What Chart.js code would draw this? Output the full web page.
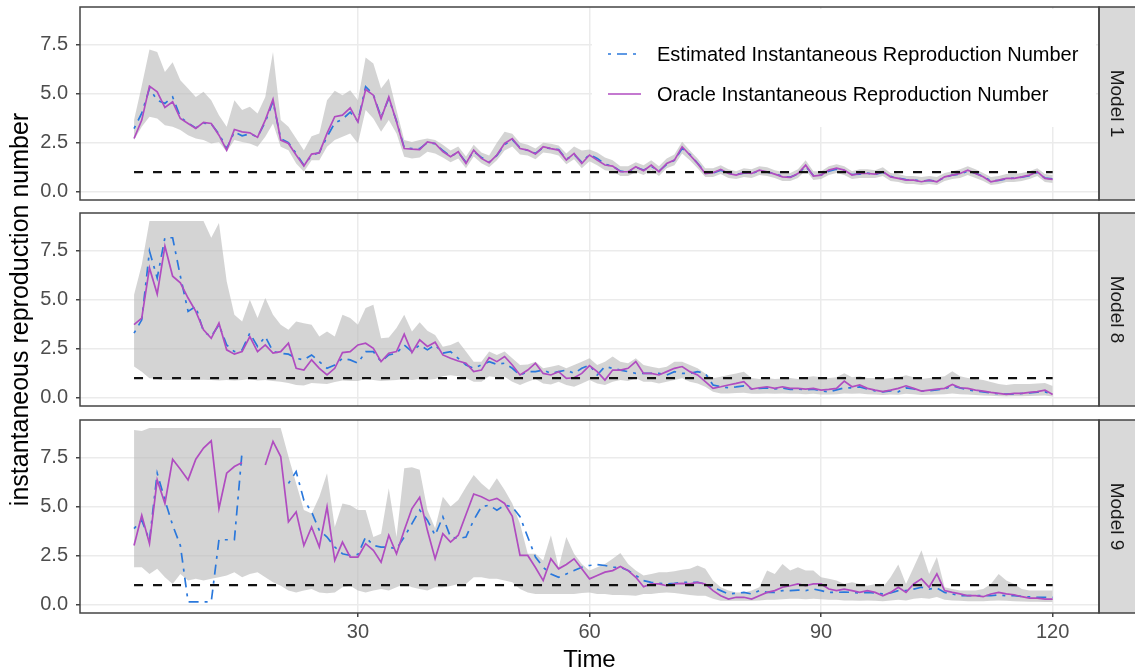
<!DOCTYPE html>
<html>
<head>
<meta charset="utf-8">
<title>Instantaneous reproduction number</title>
<script src="https://cdn.jsdelivr.net/npm/chart.js@4.4.1/dist/chart.umd.min.js"></script>
<style>
  html, body { margin: 0; padding: 0; background: #fff; overflow: hidden; }
  #wrap { position: relative; width: 1135px; height: 672px; }
  #wrap canvas { position: absolute; left: 0; top: 0; }
</style>
</head>
<body>
<div id="wrap">
  <canvas id="panel1" width="1135" height="672"></canvas>
  <canvas id="panel8" width="1135" height="672"></canvas>
  <canvas id="panel9" width="1135" height="672"></canvas>
</div>
<script>
// ---- data (one value per day) ----
const days = [];
for (let t = 1; t <= 120; t++) days.push(t);

const timeTicks = [30, 60, 90, 120];
const rTicks = [0, 2.5, 5, 7.5];
const refLevel = 1; // epidemic threshold R = 1
const facetLabels = ['Model 1', 'Model 8', 'Model 9'];
const seriesNames = ['Estimated Instantaneous Reproduction Number', 'Oracle Instantaneous Reproduction Number'];

// Model 1
const m1Oracle = [2.71, 3.65, 5.38, 5.09, 4.29, 4.58, 3.73, 3.48, 3.22, 3.53,
  3.48, 2.88, 2.12, 3.17, 3.05, 3.00, 2.77, 3.65, 4.70, 2.63,
  2.46, 1.87, 1.31, 1.92, 1.98, 2.97, 3.82, 3.90, 4.27, 3.56,
  5.21, 4.92, 3.73, 4.83, 3.56, 2.20, 2.17, 2.15, 2.54, 2.46,
  2.05, 1.78, 2.04, 1.44, 2.12, 1.70, 1.48, 1.87, 2.46, 2.71,
  2.20, 2.12, 1.92, 2.29, 2.20, 2.12, 1.61, 1.95, 1.44, 1.87,
  1.61, 1.36, 1.31, 1.02, 1.02, 1.27, 1.07, 1.36, 1.02, 1.44,
  1.61, 2.29, 1.87, 1.44, 0.93, 0.97, 1.14, 0.93, 0.85, 0.97,
  0.93, 1.10, 1.02, 0.90, 0.76, 0.73, 0.93, 1.36, 0.80, 0.85,
  1.10, 1.20, 1.10, 0.85, 0.93, 0.93, 0.90, 1.02, 0.76, 0.68,
  0.59, 0.59, 0.51, 0.59, 0.51, 0.76, 0.85, 0.93, 1.10, 0.93,
  0.76, 0.51, 0.59, 0.68, 0.68, 0.76, 0.85, 1.02, 0.68, 0.63];
const m1Est = [3.22, 4.00, 5.26, 4.66, 4.50, 4.83, 3.80, 3.50, 3.25, 3.50,
  3.45, 2.95, 2.20, 3.05, 2.85, 2.95, 2.80, 3.55, 4.60, 2.70,
  2.50, 1.95, 1.35, 1.85, 2.00, 2.80, 3.50, 3.70, 4.05, 3.60,
  5.35, 4.95, 3.80, 4.75, 3.60, 2.25, 2.20, 2.20, 2.50, 2.45,
  2.10, 1.80, 2.00, 1.50, 2.05, 1.75, 1.50, 1.85, 2.40, 2.65,
  2.25, 2.10, 1.95, 2.25, 2.20, 2.15, 1.65, 1.90, 1.50, 1.90,
  1.70, 1.40, 1.30, 1.05, 1.00, 1.25, 1.10, 1.30, 1.05, 1.40,
  1.60, 2.20, 1.90, 1.45, 0.98, 0.95, 1.10, 0.95, 0.88, 0.95,
  0.95, 1.05, 1.00, 0.92, 0.78, 0.75, 0.90, 1.30, 0.82, 0.85,
  1.05, 1.15, 1.08, 0.88, 0.90, 0.95, 0.88, 1.00, 0.78, 0.70,
  0.62, 0.60, 0.55, 0.58, 0.54, 0.72, 0.85, 0.90, 1.05, 0.95,
  0.78, 0.55, 0.58, 0.66, 0.70, 0.74, 0.82, 0.98, 0.70, 0.65];
const m1Hi = [3.65, 5.40, 7.24, 7.12, 6.10, 6.60, 5.68, 5.26, 4.83, 5.09,
  4.66, 3.90, 3.31, 4.66, 4.16, 4.33, 3.99, 4.83, 7.12, 3.65,
  3.31, 2.71, 2.12, 2.83, 2.97, 4.66, 5.14, 4.92, 5.17, 4.66,
  6.84, 6.53, 5.26, 5.77, 4.16, 2.63, 2.54, 2.63, 2.71, 2.63,
  2.40, 2.10, 2.30, 1.80, 2.40, 2.00, 1.85, 2.50, 3.05, 2.95,
  2.50, 2.40, 2.20, 2.50, 2.45, 2.35, 1.95, 2.30, 2.10, 2.15,
  2.00, 1.75, 1.60, 1.30, 1.30, 1.50, 1.35, 1.60, 1.30, 1.70,
  1.90, 2.55, 2.10, 1.70, 1.20, 1.20, 1.35, 1.15, 1.05, 1.20,
  1.15, 1.30, 1.25, 1.10, 1.00, 0.95, 1.15, 1.60, 1.05, 1.05,
  1.30, 1.40, 1.30, 1.05, 1.15, 1.15, 1.10, 1.25, 0.95, 0.90,
  0.80, 0.80, 0.75, 0.80, 0.75, 0.95, 1.05, 1.15, 1.30, 1.15,
  0.95, 0.75, 0.80, 0.90, 0.90, 0.95, 1.05, 1.20, 0.90, 0.85];
const m1Lo = [2.63, 3.31, 3.82, 3.73, 3.39, 3.31, 3.14, 2.88, 2.71, 2.63,
  2.46, 2.54, 2.04, 2.63, 2.54, 2.46, 2.29, 2.80, 3.48, 2.29,
  2.12, 1.44, 1.02, 1.61, 1.61, 2.29, 2.63, 2.80, 2.97, 2.46,
  4.16, 3.73, 3.05, 3.65, 2.97, 1.78, 1.70, 1.75, 2.04, 1.95,
  1.75, 1.50, 1.70, 1.20, 1.80, 1.45, 1.25, 1.60, 2.10, 2.30,
  1.90, 1.85, 1.65, 2.00, 1.95, 1.85, 1.40, 1.65, 1.20, 1.55,
  1.35, 1.10, 1.05, 0.80, 0.80, 1.00, 0.85, 1.10, 0.80, 1.20,
  1.35, 1.95, 1.60, 1.20, 0.75, 0.75, 0.90, 0.70, 0.65, 0.75,
  0.70, 0.85, 0.80, 0.70, 0.55, 0.55, 0.70, 1.10, 0.60, 0.65,
  0.85, 0.95, 0.85, 0.65, 0.70, 0.70, 0.70, 0.80, 0.55, 0.50,
  0.40, 0.40, 0.35, 0.40, 0.35, 0.55, 0.65, 0.70, 0.85, 0.70,
  0.55, 0.35, 0.40, 0.50, 0.50, 0.55, 0.65, 0.80, 0.50, 0.45];

// Model 8
const m8Oracle = [3.72, 4.06, 6.61, 5.28, 7.72, 6.19, 5.85, 5.08, 4.40, 3.46,
  3.03, 3.80, 2.44, 2.22, 2.35, 3.12, 2.35, 2.69, 2.27, 2.35,
  2.78, 1.50, 1.41, 1.93, 1.50, 1.16, 1.50, 2.30, 2.35, 2.69,
  2.78, 2.52, 1.84, 2.27, 2.35, 3.24, 2.30, 2.95, 2.61, 2.83,
  2.18, 2.01, 1.87, 1.76, 1.33, 1.41, 2.05, 1.84, 2.10, 1.67,
  1.16, 1.41, 1.76, 1.24, 1.16, 1.33, 0.99, 1.02, 1.24, 1.64,
  1.33, 0.90, 1.41, 1.41, 1.50, 1.84, 1.24, 1.24, 1.16, 1.33,
  1.50, 1.59, 1.33, 1.16, 0.82, 0.48, 0.56, 0.65, 0.73, 0.82,
  0.44, 0.51, 0.56, 0.48, 0.56, 0.48, 0.48, 0.44, 0.48, 0.39,
  0.43, 0.48, 0.85, 0.56, 0.65, 0.48, 0.39, 0.31, 0.39, 0.48,
  0.61, 0.48, 0.34, 0.39, 0.44, 0.48, 0.68, 0.51, 0.48, 0.39,
  0.34, 0.27, 0.22, 0.17, 0.22, 0.22, 0.27, 0.31, 0.39, 0.17];
const m8Est = [3.29, 3.97, 7.47, 6.10, 8.15, 8.15, 6.19, 4.40, 4.65, 3.37,
  3.12, 3.72, 2.69, 2.35, 2.44, 3.29, 2.61, 3.12, 2.35, 2.27,
  2.22, 2.01, 1.93, 2.18, 1.84, 1.50, 1.67, 2.01, 1.93, 1.76,
  2.35, 2.35, 1.84, 2.18, 2.27, 2.69, 2.35, 2.69, 2.44, 2.69,
  2.27, 2.35, 2.01, 1.67, 1.50, 1.67, 1.84, 1.70, 1.76, 1.50,
  1.16, 1.33, 1.33, 1.41, 1.24, 1.33, 1.41, 1.24, 1.50, 1.67,
  1.16, 1.59, 1.50, 1.41, 1.33, 1.24, 1.24, 1.24, 1.24, 1.16,
  1.33, 1.24, 1.24, 1.33, 1.24, 0.65, 0.56, 0.51, 0.55, 0.60,
  0.45, 0.48, 0.50, 0.45, 0.50, 0.42, 0.45, 0.40, 0.44, 0.35,
  0.30, 0.40, 0.50, 0.50, 0.55, 0.45, 0.35, 0.30, 0.35, 0.30,
  0.50, 0.45, 0.35, 0.35, 0.40, 0.45, 0.60, 0.50, 0.40, 0.35,
  0.30, 0.25, 0.20, 0.18, 0.20, 0.22, 0.25, 0.28, 0.30, 0.20];
const m8Hi = [5.25, 6.78, 9.00, 9.00, 9.00, 9.00, 9.00, 9.00, 9.00, 9.00,
  8.15, 8.90, 5.93, 4.23, 3.89, 4.99, 4.06, 5.08, 4.23, 3.72,
  3.46, 3.89, 3.80, 3.72, 3.12, 3.37, 3.12, 4.23, 4.06, 3.72,
  4.57, 4.74, 3.03, 3.07, 3.55, 4.23, 3.37, 3.85, 3.41, 3.20,
  2.60, 2.69, 2.86, 2.35, 1.84, 1.84, 2.35, 2.18, 2.35, 2.01,
  1.67, 1.70, 1.84, 1.50, 1.58, 1.67, 1.50, 1.67, 1.84, 2.01,
  1.67, 1.84, 2.10, 1.84, 1.76, 2.01, 1.67, 1.58, 1.50, 1.58,
  1.84, 1.84, 1.67, 1.50, 1.24, 0.99, 1.07, 1.16, 1.24, 1.33,
  1.00, 0.95, 1.00, 0.95, 0.98, 1.00, 0.95, 1.05, 1.10, 1.05,
  1.00, 1.05, 1.25, 1.05, 1.10, 1.00, 1.00, 0.95, 1.00, 1.05,
  1.15, 1.05, 0.95, 1.00, 1.05, 1.10, 1.35, 1.10, 1.00, 0.95,
  0.90, 0.80, 0.70, 0.65, 0.70, 0.70, 0.70, 0.72, 0.75, 0.60];
const m8Lo = [1.59, 1.33, 0.99, 0.95, 0.90, 0.90, 0.92, 0.90, 0.90, 0.92,
  0.90, 0.88, 0.90, 0.88, 0.90, 0.95, 0.88, 0.90, 0.85, 0.82,
  0.75, 0.65, 0.62, 0.75, 0.72, 0.70, 0.80, 0.88, 0.85, 0.85,
  0.95, 0.90, 0.85, 0.88, 0.90, 0.95, 0.90, 0.95, 0.92, 0.95,
  1.10, 1.15, 1.10, 1.00, 0.82, 0.82, 1.10, 1.05, 1.07, 0.82,
  0.65, 0.82, 0.95, 0.73, 0.68, 0.82, 0.65, 0.56, 0.73, 0.90,
  0.73, 0.65, 0.82, 0.90, 0.85, 0.99, 0.82, 0.82, 0.73, 0.82,
  0.90, 0.99, 0.82, 0.73, 0.56, 0.31, 0.22, 0.22, 0.24, 0.26,
  0.20, 0.20, 0.22, 0.20, 0.22, 0.20, 0.20, 0.18, 0.20, 0.16,
  0.16, 0.18, 0.22, 0.20, 0.22, 0.18, 0.16, 0.14, 0.16, 0.15,
  0.20, 0.18, 0.14, 0.15, 0.16, 0.18, 0.22, 0.18, 0.16, 0.14,
  0.12, 0.10, 0.08, 0.06, 0.08, 0.08, 0.09, 0.10, 0.12, 0.06];

// Model 9 (null = no value plotted)
const m9Oracle = [3.02, 4.56, 3.11, 6.36, 5.16, 7.41, 6.90, 6.36, 7.41, 7.98,
  8.35, 4.90, 6.70, 7.04, 7.24, null, null, 7.12, 8.32, 7.55,
  4.22, 4.73, 3.02, 3.96, 2.94, 4.99, 2.26, 3.19, 2.43, 2.43,
  3.11, 2.77, 2.17, 3.54, 2.60, 3.79, 4.90, 5.47, 3.79, 2.34,
  3.62, 3.19, 3.54, 4.60, 5.64, 5.50, 5.30, 5.42, 5.16, 4.50,
  2.51, 2.51, 1.90, 1.23, 2.34, 1.83, 2.05, 2.34, 1.83, 1.32,
  1.49, 1.66, 1.74, 1.95, 1.74, 1.40, 0.92, 1.06, 1.06, 0.97,
  1.06, 1.09, 1.06, 1.14, 1.06, 0.72, 0.46, 0.29, 0.38, 0.38,
  0.29, 0.46, 0.63, 0.72, 0.89, 0.97, 1.06, 0.97, 1.06, 1.06,
  0.80, 0.72, 0.80, 0.72, 0.63, 0.72, 0.63, 0.46, 0.63, 0.89,
  0.63, 1.06, 1.32, 0.89, 1.57, 0.72, 0.63, 0.55, 0.46, 0.46,
  0.41, 0.55, 0.63, 0.55, 0.51, 0.41, 0.34, 0.34, 0.29, 0.29];
const m9Est = [3.88, 4.31, 3.28, 6.70, 5.33, 4.05, 3.02, 0.15, 0.15, 0.15,
  0.15, 3.31, 3.31, 3.31, 7.81, null, null, null, null, null,
  6.18, 6.78, 5.33, 4.73, 3.79, 3.45, 2.94, 2.60, 2.51, 2.56,
  3.45, 3.02, 2.94, 2.94, 2.85, 3.45, 4.13, 4.82, 4.31, 3.54,
  4.48, 3.45, 3.37, 3.45, 4.31, 4.99, 5.07, 4.82, 5.07, 4.99,
  4.48, 3.45, 2.43, 1.91, 1.57, 1.40, 1.57, 1.74, 1.91, 2.00,
  2.05, 2.00, 1.91, 1.91, 1.74, 1.49, 1.23, 1.14, 1.09, 1.06,
  1.09, 1.14, 1.14, 1.14, 1.06, 0.89, 0.72, 0.55, 0.58, 0.63,
  0.55, 0.72, 0.63, 0.63, 0.72, 0.72, 0.75, 0.72, 0.80, 0.72,
  0.63, 0.63, 0.65, 0.63, 0.60, 0.63, 0.60, 0.55, 0.60, 0.72,
  0.72, 0.80, 0.89, 0.80, 0.85, 0.63, 0.55, 0.46, 0.46, 0.46,
  0.46, 0.46, 0.50, 0.46, 0.46, 0.42, 0.40, 0.38, 0.38, 0.38];
const m9Hi = [8.90, 8.85, 9.00, 9.00, 9.00, 9.00, 9.00, 9.00, 9.00, 9.00,
  9.00, 9.00, 9.00, 9.00, 9.00, 9.00, 9.00, 9.00, 9.00, 9.00,
  7.55, 6.18, 4.82, 4.65, 5.50, 6.70, 3.96, 5.16, 5.07, 4.82,
  4.82, 3.45, 3.62, 5.93, 3.45, 6.95, 7.00, 6.87, 4.82, 3.90,
  5.50, 5.00, 5.33, 6.00, 6.61, 6.18, 5.84, 6.44, 5.84, 5.16,
  4.13, 2.60, 2.60, 2.26, 3.54, 1.91, 3.45, 2.60, 2.08, 1.74,
  1.91, 2.08, 2.34, 2.63, 2.08, 1.74, 1.49, 1.57, 1.66, 1.66,
  1.71, 1.78, 1.83, 2.00, 1.83, 1.23, 0.89, 0.72, 0.63, 0.63,
  0.72, 0.89, 1.74, 1.57, 2.08, 1.74, 1.91, 1.74, 1.74, 1.40,
  1.32, 1.23, 1.06, 1.14, 1.06, 0.97, 1.06, 0.89, 1.40, 2.05,
  1.06, 1.91, 2.77, 1.57, 2.43, 0.89, 0.80, 0.72, 0.72, 0.72,
  0.80, 1.06, 1.57, 1.23, 1.06, 0.80, 0.72, 0.72, 0.72, 0.72];
const m9Lo = [1.91, 1.91, 1.57, 1.83, 1.40, 1.06, 1.57, 1.23, 1.32, 1.23,
  1.32, 1.40, 1.49, 1.66, 1.40, 1.57, 1.66, 1.40, 1.15, 0.97,
  0.72, 0.63, 0.72, 0.80, 0.63, 0.58, 0.63, 0.89, 0.97, 0.72,
  0.63, 0.72, 0.80, 0.72, 0.89, 1.06, 0.89, 0.80, 0.72, 0.89,
  0.89, 0.95, 1.06, 1.06, 1.40, 1.40, 1.32, 1.32, 1.23, 1.15,
  0.80, 0.63, 0.55, 0.55, 0.55, 0.55, 0.55, 0.55, 0.60, 0.63,
  0.55, 0.55, 0.50, 0.50, 0.48, 0.46, 0.55, 0.55, 0.60, 0.63,
  0.60, 0.55, 0.50, 0.46, 0.46, 0.30, 0.20, 0.20, 0.20, 0.20,
  0.20, 0.22, 0.25, 0.25, 0.28, 0.30, 0.30, 0.28, 0.30, 0.28,
  0.25, 0.25, 0.22, 0.22, 0.20, 0.22, 0.20, 0.18, 0.22, 0.25,
  0.22, 0.30, 0.35, 0.30, 0.40, 0.25, 0.22, 0.20, 0.18, 0.18,
  0.18, 0.20, 0.22, 0.20, 0.18, 0.16, 0.15, 0.15, 0.14, 0.14];

// ---- styling ----
const FONT = "'Liberation Sans', Arial, Helvetica, sans-serif";
Chart.defaults.font.family = FONT;
Chart.defaults.color = '#4D4D4D';

const EST_COLOR = '#2A78DC';
const ORACLE_COLOR = '#B04CC0';
const RIBBON_COLOR = 'rgba(185,185,185,0.62)';
const GRID_COLOR = '#EBEBEB';
const FRAME_COLOR = '#444444';
const EST_DASH = [3, 6, 10, 6];

function pts(values) {
  return values.map((v, i) => ({ x: days[i], y: v }));
}

// panel border + facet strip on the right
const panelFrame = {
  id: 'panelFrame',
  afterDraw(chart, args, opts) {
    const { ctx, chartArea: a } = chart;
    const h = a.bottom - a.top;
    ctx.save();
    ctx.fillStyle = '#D9D9D9';
    ctx.fillRect(a.right, a.top, 40, h);
    ctx.strokeStyle = FRAME_COLOR;
    ctx.lineWidth = 1.5;
    ctx.strokeRect(a.left, a.top, a.right - a.left, h);
    ctx.strokeRect(a.right, a.top, 40, h);
    ctx.translate(a.right + 17, (a.top + a.bottom) / 2);
    ctx.rotate(Math.PI / 2);
    ctx.fillStyle = '#1A1A1A';
    ctx.font = '19px ' + FONT;
    ctx.textAlign = 'center';
    ctx.textBaseline = 'middle';
    ctx.fillText(opts.label, 0, 0);
    ctx.restore();
  }
};

// legend sitting inside the top panel
const insideLegend = {
  id: 'insideLegend',
  afterDatasetsDraw(chart, args, opts) {
    if (!opts.show) return;
    const { ctx } = chart;
    const b = opts.box;
    ctx.save();
    ctx.fillStyle = '#FFFFFF';
    ctx.fillRect(b.left, b.top, b.right - b.left, b.bottom - b.top);
    ctx.font = '20px ' + FONT;
    ctx.textBaseline = 'middle';
    opts.items.forEach((item, i) => {
      const y = b.firstRow + i * b.rowGap;
      ctx.beginPath();
      ctx.strokeStyle = item.color;
      ctx.lineWidth = 1.7;
      ctx.setLineDash(item.dash);
      ctx.moveTo(b.keyLeft, y);
      ctx.lineTo(b.keyRight, y);
      ctx.stroke();
      ctx.setLineDash([]);
      ctx.fillStyle = '#000';
      ctx.fillText(item.text, b.textLeft, y + 1);
    });
    ctx.restore();
  }
};

function buildPanel(id, est, oracle, lo, hi, cfg) {
  return new Chart(document.getElementById(id), {
    type: 'line',
    data: {
      datasets: [
        { label: 'R = 1', data: [{ x: days[0], y: refLevel }, { x: days[days.length - 1], y: refLevel }],
          borderColor: '#111', borderWidth: 2.2, borderDash: [9, 10], pointRadius: 0, fill: false },
        { label: seriesNames[1], data: pts(oracle), borderColor: ORACLE_COLOR, borderWidth: 1.7,
          pointRadius: 0, fill: false },
        { label: seriesNames[0], data: pts(est), borderColor: EST_COLOR, borderWidth: 1.7,
          borderDash: EST_DASH, pointRadius: 0, fill: false },
        { label: 'upper', data: pts(hi), borderColor: 'transparent', borderWidth: 0, pointRadius: 0,
          backgroundColor: RIBBON_COLOR, fill: '+1' },
        { label: 'lower', data: pts(lo), borderColor: 'transparent', borderWidth: 0, pointRadius: 0, fill: false }
      ]
    },
    options: {
      responsive: false,
      animation: false,
      devicePixelRatio: 1,
      events: [],
      layout: { padding: cfg.padding },
      plugins: {
        legend: { display: false },
        tooltip: { enabled: false },
        panelFrame: { label: cfg.label },
        insideLegend: {
          show: cfg.legend,
          box: { left: 592, right: 1096, top: 9, bottom: 127, firstRow: 54, rowGap: 40,
                 keyLeft: 608, keyRight: 641, textLeft: 657 },
          items: [
            { text: seriesNames[0], color: EST_COLOR, dash: EST_DASH },
            { text: seriesNames[1], color: ORACLE_COLOR, dash: [] }
          ]
        }
      },
      scales: {
        x: {
          type: 'linear',
          min: -6,
          max: 126,
          afterBuildTicks: s => { s.ticks = timeTicks.map(v => ({ value: v })); },
          afterFit: s => { s.height = cfg.xHeight; s.paddingLeft = 0; s.paddingRight = 0; },
          border: { display: false },
          grid: { color: GRID_COLOR, lineWidth: 1.5, drawTicks: cfg.showX, tickLength: 4,
                  tickColor: FRAME_COLOR, tickWidth: 1.5 },
          ticks: { display: cfg.showX, autoSkip: false, maxRotation: 0, padding: 3,
                   color: '#4D4D4D', font: { size: 20 } },
          title: { display: cfg.showX, text: 'Time', color: '#000',
                   font: { size: 24, lineHeight: 1 }, padding: 0 }
        },
        y: {
          type: 'linear',
          min: -0.42,
          max: 9.41,
          afterBuildTicks: s => { s.ticks = rTicks.map(v => ({ value: v })); },
          afterFit: s => { s.width = 80; s.paddingTop = 0; s.paddingBottom = 0; },
          border: { display: false },
          grid: { color: GRID_COLOR, lineWidth: 1.5, drawTicks: true, tickLength: 4,
                  tickColor: FRAME_COLOR, tickWidth: 1.5 },
          ticks: { padding: 8, color: '#4D4D4D', font: { size: 20 },
                   callback: v => Number(v).toFixed(1) },
          title: { display: cfg.yTitle, text: 'instantaneous reproduction number', color: '#000',
                   font: { size: 25, lineHeight: 1 }, padding: { top: 8.5, bottom: 0 } }
        }
      }
    },
    plugins: [panelFrame, insideLegend]
  });
}

buildPanel('panel1', m1Est, m1Oracle, m1Lo, m1Hi, {
  label: facetLabels[0], legend: true, showX: false, xHeight: 0, yTitle: false,
  padding: { top: 7, bottom: 472, left: 0, right: 36 }
});
buildPanel('panel8', m8Est, m8Oracle, m8Lo, m8Hi, {
  label: facetLabels[1], legend: false, showX: false, xHeight: 0, yTitle: true,
  padding: { top: 213, bottom: 266, left: 0, right: 36 }
});
buildPanel('panel9', m9Est, m9Oracle, m9Lo, m9Hi, {
  label: facetLabels[2], legend: false, showX: true, xHeight: 59, yTitle: false,
  padding: { top: 420, bottom: 0, left: 0, right: 36 }
});
</script>
</body>
</html>
